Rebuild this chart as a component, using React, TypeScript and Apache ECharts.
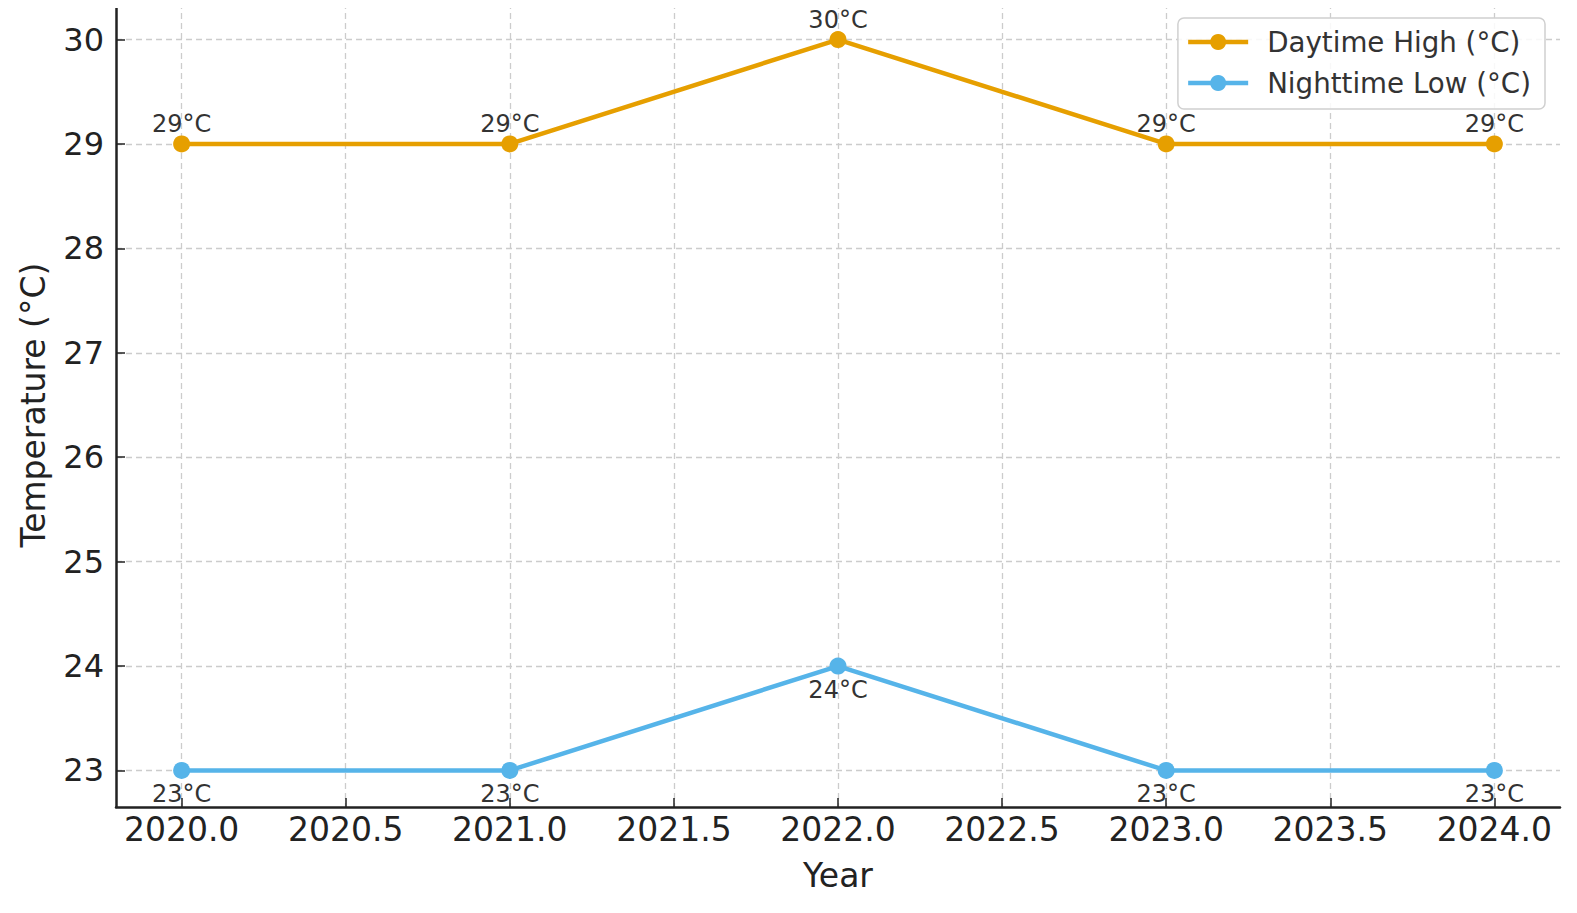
import React, { useEffect, useRef } from 'react';
import * as echarts from 'echarts';

const years = [2020, 2021, 2022, 2023, 2024];
const daytimeHigh = [29, 29, 30, 29, 29];
const nighttimeLow = [23, 23, 24, 23, 23];
const xTicks = [2020, 2020.5, 2021, 2021.5, 2022, 2022.5, 2023, 2023.5, 2024];
const yTicks = [23, 24, 25, 26, 27, 28, 29, 30];

const FONT = '"DejaVu Sans", sans-serif';
const ORANGE = '#E69F00';
const BLUE = '#56B4E9';

const App: React.FC = () => {
  const chartRef = useRef<HTMLDivElement>(null);

  useEffect(() => {
    if (!chartRef.current) return;
    const chart = echarts.init(chartRef.current, undefined, { renderer: 'svg' });

    const option: any = {
      animation: false,
      backgroundColor: '#fff',
      textStyle: { fontFamily: FONT },
      grid: { left: 116, right: 17, top: 3, bottom: 106, containLabel: false },
      legend: {
        orient: 'vertical',
        right: 32,
        top: 18,
        padding: [10, 14, 12, 8],
        itemWidth: 60,
        itemHeight: 20,
        itemGap: 13,
        borderColor: '#d0d0d0',
        borderWidth: 1.5,
        borderRadius: 6,
        backgroundColor: 'rgba(255,255,255,0.85)',
        lineStyle: { width: 4.5 },
        textStyle: { fontFamily: FONT, fontSize: 27.7, color: '#333', padding: [0, 0, 0, 14] },
        data: ['Daytime High (°C)', 'Nighttime Low (°C)'],
      },
      xAxis: {
        type: 'value',
        min: 2019.8,
        max: 2024.2,
        name: 'Year',
        nameLocation: 'middle',
        nameGap: 52,
        nameTextStyle: { fontFamily: FONT, fontSize: 33, color: '#222' },
        axisLine: { show: true, onZero: false, lineStyle: { color: '#222', width: 2.5 } },
        axisTick: { show: true, inside: true, length: 9, customValues: xTicks, lineStyle: { color: '#222', width: 1.5 } },
        axisLabel: {
          customValues: xTicks,
          margin: 6,
          fontFamily: FONT,
          fontSize: 33,
          color: '#222',
          formatter: (v: number) => v.toFixed(1),
        },
        splitLine: { show: true, lineStyle: { color: '#cccccc', type: [6, 4], width: 1.3 } },
      },
      yAxis: {
        type: 'value',
        min: 22.65,
        max: 30.35,
        name: 'Temperature (°C)',
        nameLocation: 'middle',
        nameGap: 66,
        nameTextStyle: { fontFamily: FONT, fontSize: 33, color: '#222' },
        axisLine: { show: true, onZero: false, lineStyle: { color: '#222', width: 2.5 } },
        axisTick: { show: true, inside: true, length: 9, customValues: yTicks, lineStyle: { color: '#222', width: 1.5 } },
        axisLabel: {
          customValues: yTicks,
          margin: 12,
          fontFamily: FONT,
          fontSize: 32,
          color: '#222',
          formatter: (v: number) => String(v),
        },
        splitLine: { show: true, lineStyle: { color: '#cccccc', type: [6, 4], width: 1.3 } },
      },
      series: [
        {
          name: 'Daytime High (°C)',
          type: 'line',
          data: years.map((y, i) => [y, daytimeHigh[i]]),
          color: ORANGE,
          symbol: 'circle',
          symbolSize: 17,
          lineStyle: { width: 4.5, color: ORANGE },
          itemStyle: { color: ORANGE },
          label: {
            show: true,
            position: 'top',
            distance: -1,
            fontFamily: FONT,
            fontSize: 24,
            color: '#333',
            formatter: (p: any) => `${p.value[1]}°C`,
          },
        },
        {
          name: 'Nighttime Low (°C)',
          type: 'line',
          data: years.map((y, i) => [y, nighttimeLow[i]]),
          color: BLUE,
          symbol: 'circle',
          symbolSize: 17,
          lineStyle: { width: 4.5, color: BLUE },
          itemStyle: { color: BLUE },
          label: {
            show: true,
            position: 'bottom',
            distance: 3,
            fontFamily: FONT,
            fontSize: 24,
            color: '#333',
            formatter: (p: any) => `${p.value[1]}°C`,
          },
        },
      ],
    };

    chart.setOption(option);
    const handleResize = () => chart.resize();
    window.addEventListener('resize', handleResize);
    return () => {
      window.removeEventListener('resize', handleResize);
      chart.dispose();
    };
  }, []);

  return <div ref={chartRef} style={{ width: 1577, height: 913, margin: -8 }} />;
};

export default App;
